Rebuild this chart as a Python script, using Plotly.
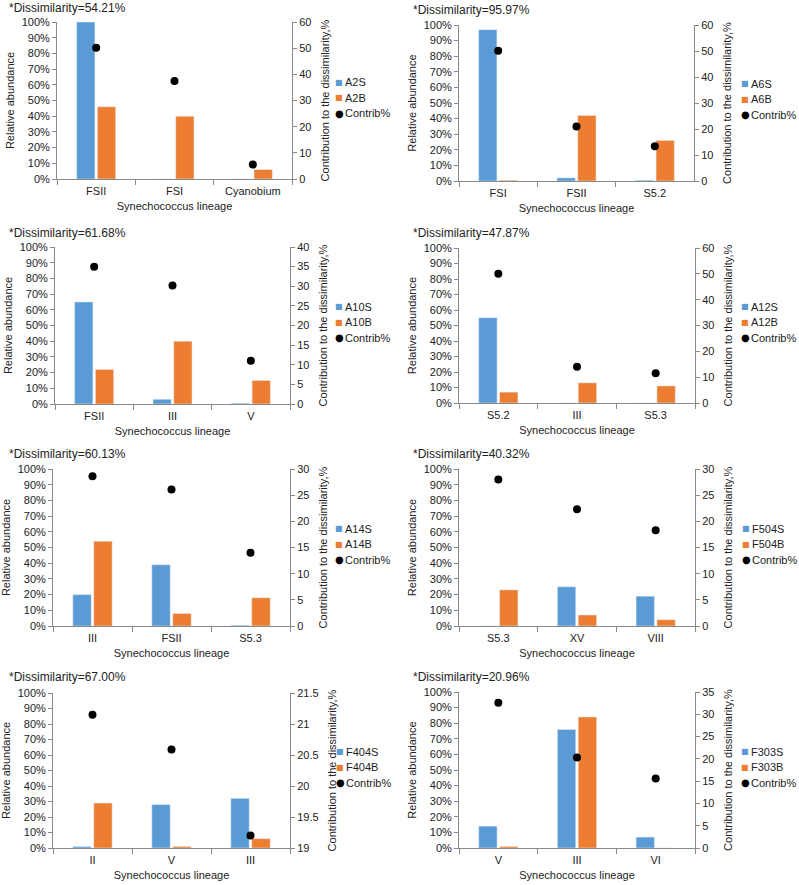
import plotly.graph_objects as go

W, H = 799, 885

# ---- data ----
titles = ["*Dissimilarity=54.21%", "*Dissimilarity=95.97%", "*Dissimilarity=61.68%",
          "*Dissimilarity=47.87%", "*Dissimilarity=60.13%", "*Dissimilarity=40.32%",
          "*Dissimilarity=67.00%", "*Dissimilarity=20.96%"]
cats = [["FSII", "FSI", "Cyanobium"], ["FSI", "FSII", "S5.2"], ["FSII", "III", "V"],
        ["S5.2", "III", "S5.3"], ["III", "FSII", "S5.3"], ["S5.3", "XV", "VIII"],
        ["II", "V", "III"], ["V", "III", "VI"]]
s_names = ["A2S", "A6S", "A10S", "A12S", "A14S", "F504S", "F404S", "F303S"]
b_names = ["A2B", "A6B", "A10B", "A12B", "A14B", "F504B", "F404B", "F303B"]
c_name = "Contrib%"
s_vals = [[100, 0, 0], [97, 2, 0.5], [65, 3, 0.5], [55, 0, 0],
          [20, 39, 0.5], [0, 25, 19], [1, 28, 32], [14, 76, 7]]
b_vals = [[46, 40, 6], [0.5, 42, 26], [22, 40, 15], [7, 13, 11],
          [54, 8, 18], [23, 7, 4], [29, 1, 6], [1, 84, 0]]
contrib = [[50.2, 37.5, 5.5], [50.1, 21.0, 13.4], [35.0, 30.2, 11.0], [50.0, 14.0, 11.5],
           [28.6, 26.1, 14.0], [28.0, 22.3, 18.3], [21.15, 20.59, 19.2], [32.6, 20.3, 15.6]]
right_range = [[0, 60], [0, 60], [0, 40], [0, 60], [0, 30], [0, 30], [19, 21.5], [0, 35]]
right_dtick = [10, 10, 5, 10, 5, 5, 0.5, 5]

# ---- layout geometry (pixels) ----
px_x = [(57, 292), (459, 694), (55, 290), (459, 695), (53, 290), (459, 695), (53, 290), (459, 695)]
px_y = [(22, 179), (25, 181), (247, 404), (248, 403), (469, 626), (469, 626), (693, 848), (692, 848)]
title_pos = [(7, 8), (411, 10), (7, 233), (411, 233), (7, 454), (411, 454), (7, 677), (411, 677)]
legend_x = [339, 745, 339, 745, 339, 746, 340, 745]
legend_cy = [98, 99, 322, 322, 544, 544, 767, 767]
legend_step = 15.5

BLUE = "#5B9BD5"
ORANGE = "#ED7D31"
AX = "#898989"
FONT = "Liberation Sans, Arial, sans-serif"
TXT = "#222222"

fig = go.Figure()
annotations = []
layout = dict(width=W, height=H, margin=dict(l=0, r=0, t=0, b=0, autoexpand=False),
              plot_bgcolor="white", paper_bgcolor="white",
              font=dict(family=FONT, size=11, color=TXT),
              barmode="group", bargap=0.47, bargroupgap=0.12, showlegend=False)


def fx(p):
    return p / W


def fy(p):
    return 1 - p / H


for i in range(8):
    n = i + 1
    xa = "x" if n == 1 else f"x{n}"
    yl = 2 * i + 1
    yr = 2 * i + 2
    yla = "y" if yl == 1 else f"y{yl}"
    yra = f"y{yr}"

    fig.add_trace(go.Bar(x=cats[i], y=s_vals[i], name=s_names[i], marker_color=BLUE,
                         xaxis=xa, yaxis=yla, offsetgroup="s"))
    fig.add_trace(go.Bar(x=cats[i], y=b_vals[i], name=b_names[i], marker_color=ORANGE,
                         xaxis=xa, yaxis=yla, offsetgroup="b"))
    fig.add_trace(go.Scatter(x=cats[i], y=contrib[i], name=c_name, mode="markers",
                             marker=dict(color="black", size=8),
                             xaxis=xa, yaxis=yra))

    x0, x1 = px_x[i]
    y0, y1 = px_y[i]
    xkey = "xaxis" if n == 1 else f"xaxis{n}"
    ylkey = "yaxis" if yl == 1 else f"yaxis{yl}"
    yrkey = f"yaxis{yr}"

    layout[xkey] = dict(domain=[fx(x0), fx(x1)], anchor=yla, type="category",
                        range=[-0.5, 2.5], showline=True, linecolor=AX, linewidth=1,
                        ticks="outside", tickson="boundaries", ticklen=5, tickcolor=AX,
                        ticklabelstandoff=2,
                        showgrid=False, tickfont=dict(size=11, color=TXT),
                        title=dict(text="Synechococcus lineage", font=dict(size=11, color=TXT), standoff=6))
    layout[ylkey] = dict(domain=[fy(y1), fy(y0)], anchor=xa, range=[0, 100], dtick=10,
                         ticksuffix="%", showline=True, linecolor=AX, linewidth=1,
                         ticks="outside", ticklen=4, tickcolor=AX, showgrid=False, zeroline=False,
                         tickfont=dict(size=11, color=TXT),
                         title=dict(text="Relative abundance", font=dict(size=11, color=TXT), standoff=4))
    layout[yrkey] = dict(domain=[fy(y1), fy(y0)], anchor=xa, overlaying=yla, side="right",
                         range=right_range[i], dtick=right_dtick[i],
                         showline=True, linecolor=AX, linewidth=1,
                         ticks="outside", ticklen=4, tickcolor=AX, showgrid=False, zeroline=False,
                         tickfont=dict(size=11, color=TXT),
                         title=dict(text="Contribution to the dissimilarity,%", font=dict(size=11, color=TXT), standoff=10))

    # panel title
    tx, ty = title_pos[i]
    annotations.append(dict(text=titles[i], x=fx(tx), y=fy(ty), xref="paper", yref="paper",
                            xanchor="left", yanchor="middle", showarrow=False,
                            font=dict(size=12, color=TXT)))
    # legend (symbol + series name)
    entries = [(s_names[i], "■", BLUE, 8), (b_names[i], "■", ORANGE, 8), (c_name, "●", "black", 10)]
    for k, (nm, glyph, col, gs) in enumerate(entries):
        cy = legend_cy[i] + (k - 1) * legend_step
        annotations.append(dict(text=glyph, x=fx(legend_x[i]), y=fy(cy), xref="paper", yref="paper",
                                xanchor="center", yanchor="middle", showarrow=False,
                                font=dict(size=gs, color=col, family="DejaVu Sans")))
        annotations.append(dict(text=nm, x=fx(legend_x[i] + 4), y=fy(cy), xref="paper", yref="paper",
                                xanchor="left", yanchor="middle", showarrow=False,
                                font=dict(size=11, color=TXT)))

layout["annotations"] = annotations
fig.update_layout(**layout)
fig.write_html("out.html", config={"displayModeBar": False},
               post_script="document.body.style.margin='0px';")
